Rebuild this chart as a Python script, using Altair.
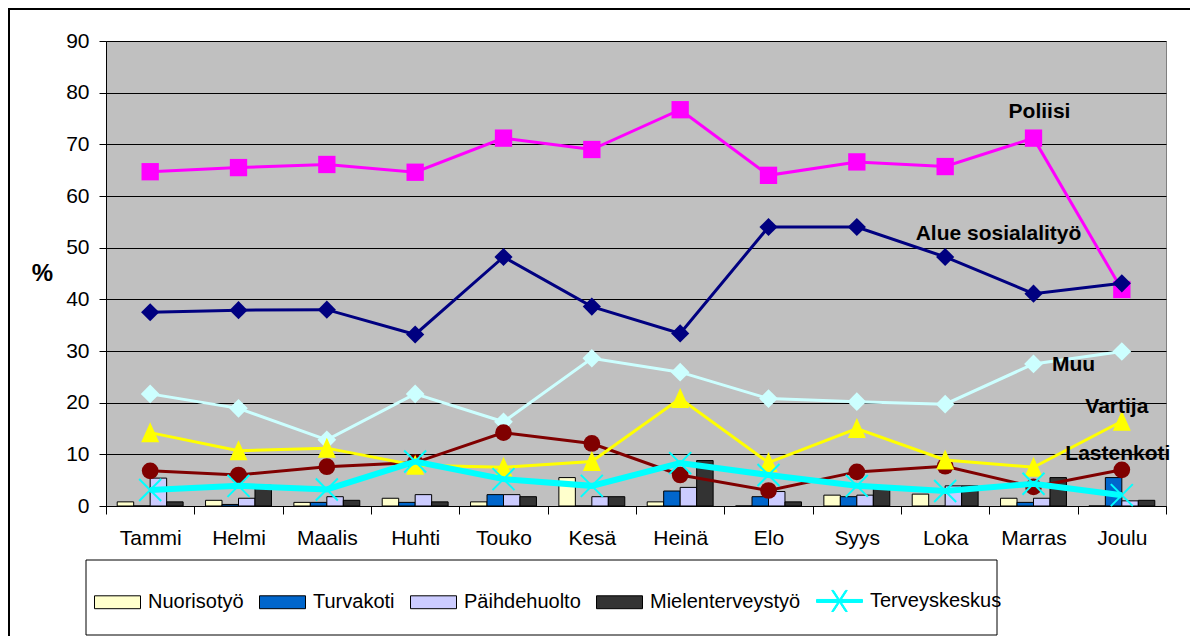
import altair as alt
import pandas as pd

months = ["Tammi", "Helmi", "Maalis", "Huhti", "Touko", "Kesä",
          "Heinä", "Elo", "Syys", "Loka", "Marras", "Joulu"]

# bar series (%)
bar_series = ["Nuorisotyö", "Turvakoti", "Päihdehuolto", "Mielenterveystyö"]
nuorisotyo = [0.8, 1.1, 0.7, 1.5, 0.8, 5.5, 0.8, 0.0, 2.1, 2.3, 1.5, 0.0]
turvakoti = [0.0, 0.3, 0.7, 0.7, 2.2, 0.0, 2.9, 1.8, 1.8, 0.0, 0.7, 5.5]
paihdehuolto = [5.4, 1.5, 1.8, 2.2, 2.2, 1.8, 3.6, 2.8, 2.1, 3.9, 1.5, 1.0]
mielenterveystyo = [0.8, 4.0, 1.1, 0.8, 1.8, 1.8, 8.8, 0.8, 3.7, 3.9, 5.5, 1.1]

# line series (%)
poliisi = [64.7, 65.5, 66.1, 64.6, 71.2, 69.0, 76.7, 64.0, 66.6, 65.7, 71.2, 41.9]
alue_sosialalityo = [37.5, 37.9, 38.0, 33.2, 48.2, 38.6, 33.4, 54.0, 54.0, 48.2, 41.1, 43.1]
muu = [21.7, 18.9, 12.8, 21.7, 16.3, 28.6, 25.9, 20.8, 20.2, 19.7, 27.5, 29.9]
lastenkoti = [6.8, 6.0, 7.6, 8.4, 14.2, 12.1, 6.0, 3.0, 6.6, 7.7, 3.7, 7.0]
vartija = [14.2, 10.7, 11.2, 7.9, 7.5, 8.6, 20.8, 8.4, 15.0, 8.9, 7.5, 16.4]
terveyskeskus = [3.1, 3.9, 3.2, 8.6, 5.2, 3.9, 8.3, 6.0, 3.9, 2.9, 4.3, 2.1]

# annotation labels
ann_labels = ["Poliisi", "Alue sosialalityö", "Muu", "Vartija", "Lastenkoti"]
ann_months = ["Marras", "Marras", "Marras", "Joulu", "Joulu"]
ann_values = [76.2, 52.6, 27.3, 19.2, 10.0]

y_ticks = list(range(0, 91, 10))

# ---------- styles ----------
FONT = "Liberation Sans"
bar_fills = ["#FFFFCC", "#0066CC", "#CCCCFF", "#333333"]
ann_dx = [6, -35, 40, -5, -4]

line_styles = [
    # name, values, color, shape, size, strokeWidth
    ("Poliisi", poliisi, "#FF00FF", "square", 300, 3),
    ("Alue sosialalityö", alue_sosialalityo, "#000080", "diamond", 330, 3),
    ("Muu", muu, "#CCFFFF", "diamond", 350, 3),
    ("Lastenkoti", lastenkoti, "#800000", "circle", 280, 3),
    ("Vartija", vartija, "#FFFF00", "M0,-1.05L0.9,0.95H-0.9Z", 400, 3),
]
TERV_COLOR = "#00FFFF"
X_PATH = "M-1,-1L1,1M-1,1L1,-1"
RECT_PATH = "M-1,-0.28H1V0.28H-1Z"
TERV_LEGEND_PATH = ("M-1,-0.065H1V0.065H-1Z "
                    "M-0.34,-0.46L-0.26,-0.46L0.34,0.46L0.26,0.46Z "
                    "M0.26,-0.46L0.34,-0.46L-0.26,0.46L-0.34,0.46Z")

W, H = 1060, 465

# ---------- data frames ----------
bar_rows = []
for s, vals in zip(bar_series, [nuorisotyo, turvakoti, paihdehuolto, mielenterveystyo]):
    for m, v in zip(months, vals):
        bar_rows.append({"month": m, "series": s, "value": v})
bars_df = pd.DataFrame(bar_rows)

terv_df = pd.DataFrame({"month": months, "series": "Terveyskeskus", "value": terveyskeskus})
legend_df = pd.concat([bars_df, terv_df], ignore_index=True)
legend_domain = bar_series + ["Terveyskeskus"]

# ---------- shared encodings ----------
X = alt.X(
    "month:N", sort=months,
    scale=alt.Scale(domain=months, paddingInner=0, paddingOuter=0),
    axis=alt.Axis(title=None, labelAngle=0, tickBand="extent", tickSize=8,
                  labelPadding=13, labelFontSize=21, labelFont=FONT, labelColor="black",
                  domainColor="black", tickColor="black", grid=False),
)
Y = alt.Y(
    "value:Q",
    scale=alt.Scale(domain=[0, 90], nice=False, zero=True),
    axis=alt.Axis(values=y_ticks, title="%", titleAngle=0, titleFontSize=24,
                  titleFontWeight="bold", titleFont=FONT, titleColor="black",
                  titleX=-64, titleY=H / 2, titleAlign="center", titleBaseline="middle",
                  labelFontSize=21, labelFont=FONT, labelColor="black", labelPadding=10,
                  tickSize=7, tickColor="black", domainColor="black",
                  grid=True, gridColor="black", gridWidth=1),
)

one = pd.DataFrame({"a": [0]})

# decorative outer frame and legend box
frame = alt.Chart(one).mark_rect(fillOpacity=0, stroke="black", strokeWidth=2).encode(
    x=alt.value(-97), x2=alt.value(W + 200), y=alt.value(-32), y2=alt.value(H + 300)
)
legend_box = alt.Chart(one).mark_rect(fill="white", stroke="#000000", strokeWidth=1).encode(
    x=alt.value(-20), x2=alt.value(891), y=alt.value(519), y2=alt.value(594)
)

bars = alt.Chart(bars_df).mark_bar(stroke="black", strokeWidth=1).encode(
    x=X,
    xOffset=alt.XOffset("series:N", sort=bar_series,
                        scale=alt.Scale(domain=bar_series, paddingInner=0, paddingOuter=0.68)),
    y=Y,
    fill=alt.Fill("series:N", scale=alt.Scale(domain=bar_series, range=bar_fills), legend=None),
)

layers = [frame, legend_box, bars]

for name, vals, color, shape, size, sw in line_styles:
    df = pd.DataFrame({"month": months, "value": vals})
    ln = alt.Chart(df).mark_line(color=color, strokeWidth=sw).encode(x=X, y=Y)
    pt = alt.Chart(df).mark_point(shape=shape, size=size, filled=True, color=color, opacity=1).encode(x=X, y=Y)
    layers += [ln, pt]

terv_line = alt.Chart(terv_df).mark_line(color=TERV_COLOR, strokeWidth=6).encode(x=X, y=Y)
terv_pts = alt.Chart(terv_df).mark_point(shape=X_PATH, size=484, filled=False,
                                         stroke=TERV_COLOR, strokeWidth=2, opacity=1).encode(x=X, y=Y)
layers += [terv_line, terv_pts]

for lab, m, v, dx in zip(ann_labels, ann_months, ann_values, ann_dx):
    df = pd.DataFrame({"month": [m], "value": [v], "label": [lab]})
    layers.append(
        alt.Chart(df).mark_text(dx=dx, font=FONT, fontSize=21, fontWeight="bold",
                                color="black", align="center", baseline="middle").encode(
            x=X, y=Y, text="label:N")
    )

leg = alt.Legend(orient="none", legendX=-12, legendY=536, direction="horizontal",
                 title=None, symbolSize=2116, symbolStrokeWidth=1, symbolOpacity=1,
                 labelFontSize=20, labelFont=FONT, labelColor="black",
                 columnPadding=13, labelOffset=7, padding=0, symbolOffset=0)

legend_layer = alt.Chart(legend_df).mark_point(filled=True, opacity=0).encode(
    x=X, y=Y,
    color=alt.Color("series:N", scale=alt.Scale(domain=legend_domain, range=bar_fills + [TERV_COLOR]), legend=leg),
    shape=alt.Shape("series:N", scale=alt.Scale(domain=legend_domain, range=[RECT_PATH] * 4 + [TERV_LEGEND_PATH]), legend=leg),
    stroke=alt.Stroke("series:N", scale=alt.Scale(domain=legend_domain, range=["black"] * 4 + [TERV_COLOR]), legend=leg),
)
layers.append(legend_layer)

chart = alt.layer(*layers).properties(
    width=W, height=H,
    autosize=alt.AutoSizeParams(type="none"),
    padding={"left": 98, "top": 33, "right": 24, "bottom": 130},
    background="white",
).configure_view(fill="#C0C0C0", stroke="#808080", strokeWidth=1)

chart.save("out.html", embed_options={"renderer": "svg", "actions": False})
